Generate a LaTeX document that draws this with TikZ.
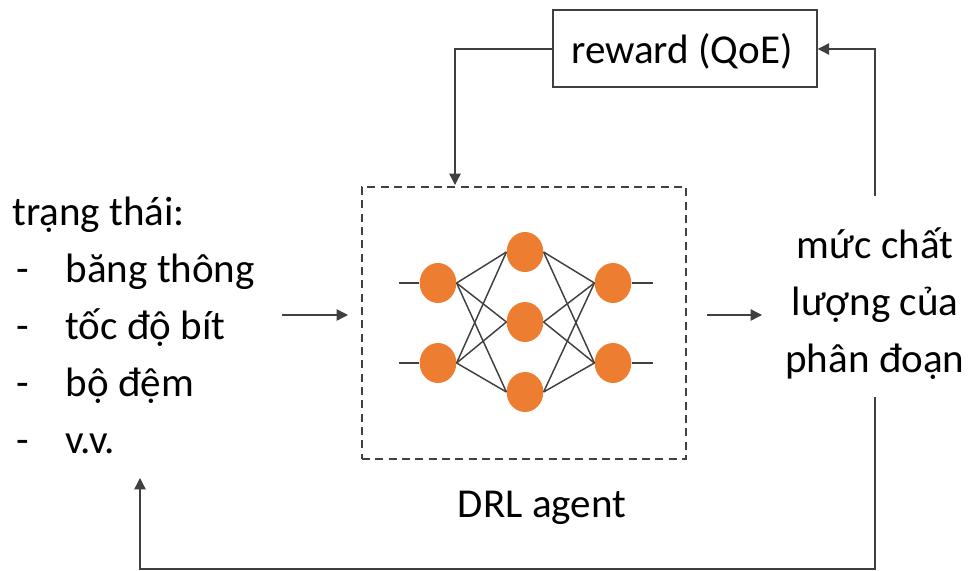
\documentclass[tikz,border=0pt]{standalone}
\usepackage{fontspec}
\setmainfont{Carlito}
\usetikzlibrary{arrows.meta,shapes.geometric}
\definecolor{neuron}{HTML}{ED7D31}
\definecolor{wire}{HTML}{404040}
\tikzset{
  lbl/.style={inner sep=0pt, font=\fontsize{30.8}{42.6}\selectfont},
  flow/.style={draw=wire, line width=1pt, -{Triangle[length=8.5pt,width=8.5pt]}},
  unit/.style={ellipse, fill=neuron, minimum width=27.5pt, minimum height=30pt, inner sep=0pt},
  syn/.style={draw=wire, line width=1.1pt},
}
\begin{document}
\begin{tikzpicture}[x=0.75pt,y=-0.75pt]
\useasboundingbox (0,0) rectangle (972,571);

% reward box
\node[draw=wire, line width=1.1pt, minimum width=198pt, minimum height=57.5pt, inner sep=0pt]
  (rew) at (685,48.5) {};
\node[lbl, anchor=base] (rewt) at (682,63) {reward (QoE)};

% agent frame
\node[draw=wire, line width=1.6pt, dash pattern=on 6pt off 4pt,
      minimum width=243pt, minimum height=204pt, inner sep=0pt] (agent) at (524,323) {};
\node[lbl, anchor=base] (agentt) at (542,517) {DRL agent};

% neural network
\node[unit] (i1) at (438,283) {};
\node[unit] (i2) at (438,363) {};
\node[unit] (h1) at (525,252) {};
\node[unit] (h2) at (525,322) {};
\node[unit] (h3) at (525,392) {};
\node[unit] (o1) at (613,283) {};
\node[unit] (o2) at (613,363) {};
\coordinate (in1) at (399,283);
\coordinate (in2) at (399,363);
\coordinate (out1) at (653,283);
\coordinate (out2) at (653,363);
\draw[syn] (in1) -- (i1.west) (in2) -- (i2.west);
\draw[syn] (o1.east) -- (out1) (o2.east) -- (out2);
\foreach \a in {i1,i2}
  \foreach \b in {h1,h2,h3}
    \draw[syn] (\a.east) -- (\b.west);
\foreach \a in {h1,h2,h3}
  \foreach \b in {o1,o2}
    \draw[syn] (\a.east) -- (\b.west);

% state description (anchored at the baseline of its last line)
\node[lbl, anchor=base west, align=left] (state) at (12,453)
  {trạng thái:\\
   \makebox[40pt][l]{\hspace{3pt}-}băng thông\\
   \makebox[40pt][l]{\hspace{3pt}-}tốc độ bít\\
   \makebox[40pt][l]{\hspace{3pt}-}bộ đệm\\
   \makebox[40pt][l]{\hspace{3pt}-}v.v.};

% action
\node[lbl, anchor=base, align=center] (act) at (875,372)
  {mức chất\\lượng của\\phân đoạn};

% connectors
\coordinate (sin) at (282,315);
\coordinate (ain) at (348,315);
\draw[flow] (sin) -- (ain);
\coordinate (aout) at (707,315);
\coordinate (qin) at (762,315);
\draw[flow] (aout) -- (qin);

\coordinate (up) at (875,196);
\coordinate (upc) at (875,49);
\draw[flow] (up) -- (upc) -- (rew.east |- upc);

\coordinate (rl) at (455,49);
\draw[flow] (rew.west |- rl) -- (rl) -- (455,185);

\coordinate (dn) at (875,397);
\coordinate (dc1) at (875,569);
\coordinate (dc2) at (140,569);
\coordinate (dtip) at (140,478);
\draw[flow] (dn) -- (dc1) -- (dc2) -- (dtip);
\end{tikzpicture}
\end{document}
